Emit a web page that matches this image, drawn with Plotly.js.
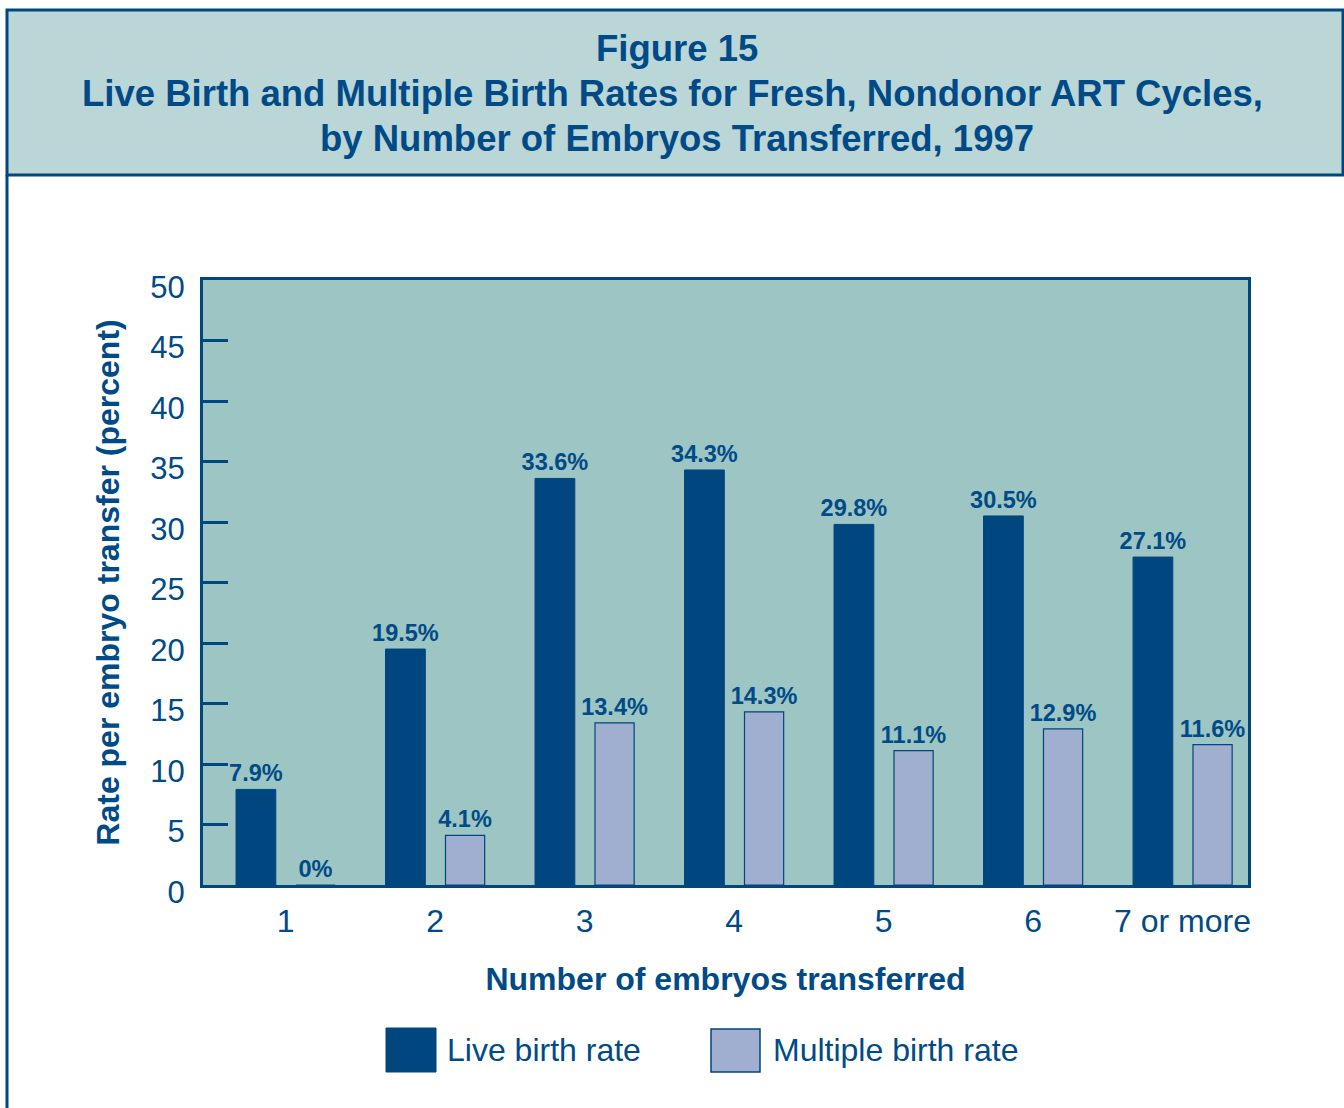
<!DOCTYPE html>
<html>
<head>
<meta charset="utf-8">
<script src="https://cdn.plot.ly/plotly-3.0.1.min.js"></script>
<style>
html,body{margin:0;padding:0;background:#ffffff;}
#chart{width:1344px;height:1108px;}
</style>
</head>
<body>
<div id="chart"></div>
<script>
// ---- data ----
var categories = ["1", "2", "3", "4", "5", "6", "7 or more"];
var liveBirthRate = [7.9, 19.5, 33.6, 34.3, 29.8, 30.5, 27.1];
var multipleBirthRate = [0, 4.1, 13.4, 14.3, 11.1, 12.9, 11.6];
var seriesNames = ["Live birth rate", "Multiple birth rate"];
var yTicks = [0, 5, 10, 15, 20, 25, 30, 35, 40, 45, 50];

// ---- styles ----
var DARK = "#00467f";
var LIGHT = "#a0aecf";
var TXT = "#004a87";
var FONT = "Liberation Sans, Arial, sans-serif";

var xpos = categories.map(function(c, i){ return i; });
function pct(v){ return v + "%"; }

var traceLive = {
  type: "bar", name: seriesNames[0], x: xpos, y: liveBirthRate,
  width: 0.266, offset: -0.331,
  marker: {color: DARK, line: {color: DARK, width: 1}},
  text: liveBirthRate.map(pct), textposition: "outside", constraintext: "none",
  cliponaxis: false,
  textfont: {family: FONT, size: 23.5, color: TXT, weight: "bold"},
  hoverinfo: "skip", showlegend: false
};
var traceMulti = {
  type: "bar", name: seriesNames[1], x: xpos, y: multipleBirthRate,
  width: 0.262, offset: 0.07,
  marker: {color: LIGHT, line: {color: DARK, width: 1.2}},
  text: multipleBirthRate.map(pct), textposition: "outside", constraintext: "none",
  cliponaxis: false,
  textfont: {family: FONT, size: 23.5, color: TXT, weight: "bold"},
  hoverinfo: "skip", showlegend: false
};

// pixel helpers for decoration placement (plot area: x 203..1248, y 280..885)
function px(x){ return (x - 203) / 1045; }
function py(y){ return (885 - y) / 605; }

var layout = {
  width: 1344, height: 1108,
  margin: {l: 203, r: 96, t: 280, b: 223, pad: 0},
  paper_bgcolor: "#ffffff",
  plot_bgcolor: "#9cc5c3",
  font: {family: FONT, color: TXT},
  showlegend: false,
  bargap: 0,
  xaxis: {
    range: [-0.552, 6.438],
    tickmode: "array", tickvals: xpos, ticktext: categories,
    showgrid: false, zeroline: false,
    showline: true, linecolor: DARK, linewidth: 3, mirror: true,
    ticks: "", ticklabelstandoff: 6,
    tickfont: {family: FONT, size: 32, color: TXT},
    title: {text: "Number of embryos transferred", standoff: 30,
            font: {family: FONT, size: 32, color: TXT, weight: "bold"}}
  },
  yaxis: {
    range: [0, 50],
    tickmode: "array", tickvals: yTicks, ticktext: yTicks.map(String),
    showgrid: false, zeroline: false,
    showline: true, linecolor: DARK, linewidth: 3, mirror: true,
    ticks: "inside", ticklen: 25, tickwidth: 3, tickcolor: DARK,
    ticklabelstandoff: 9, ticklabelshift: 7,
    tickfont: {family: FONT, size: 31, color: TXT},
    title: {text: "Rate per embryo transfer (percent)", standoff: 22,
            font: {family: FONT, size: 32, color: TXT, weight: "bold"}}
  },
  shapes: [
    // header band
    {type: "rect", xref: "paper", yref: "paper", layer: "below",
     x0: px(7), x1: px(1343), y0: py(175), y1: py(10),
     fillcolor: "#bad6d6", line: {color: DARK, width: 3}},
    // left frame line
    {type: "line", xref: "paper", yref: "paper",
     x0: px(7), x1: px(7), y0: py(175), y1: py(1112),
     line: {color: DARK, width: 3}},
    // legend swatches
    {type: "rect", xref: "paper", yref: "paper",
     x0: px(386), x1: px(436), y0: py(1072), y1: py(1028),
     fillcolor: DARK, line: {color: DARK, width: 1}},
    {type: "rect", xref: "paper", yref: "paper",
     x0: px(711), x1: px(760), y0: py(1072), y1: py(1029),
     fillcolor: LIGHT, line: {color: DARK, width: 1.5}}
  ],
  annotations: [
    {xref: "paper", yref: "paper", x: px(677), y: py(48), showarrow: false,
     xanchor: "center", yanchor: "middle", text: "Figure 15",
     font: {family: FONT, size: 36.5, color: TXT, weight: "bold"}},
    {xref: "paper", yref: "paper", x: px(672), y: py(93), showarrow: false,
     xanchor: "center", yanchor: "middle",
     text: "Live Birth and Multiple Birth Rates for Fresh, Nondonor ART Cycles,",
     font: {family: FONT, size: 36.5, color: TXT, weight: "bold"}},
    {xref: "paper", yref: "paper", x: px(677), y: py(139), showarrow: false,
     xanchor: "center", yanchor: "middle",
     text: "by Number of Embryos Transferred, 1997",
     font: {family: FONT, size: 36.5, color: TXT, weight: "bold"}},
    {xref: "paper", yref: "paper", x: px(445), y: py(1050), showarrow: false,
     xanchor: "left", yanchor: "middle", text: seriesNames[0],
     font: {family: FONT, size: 32, color: TXT}},
    {xref: "paper", yref: "paper", x: px(771), y: py(1050), showarrow: false,
     xanchor: "left", yanchor: "middle", text: seriesNames[1],
     font: {family: FONT, size: 32, color: TXT}}
  ]
};

Plotly.newPlot("chart", [traceLive, traceMulti], layout, {staticPlot: true, displayModeBar: false});
</script>
</body>
</html>
